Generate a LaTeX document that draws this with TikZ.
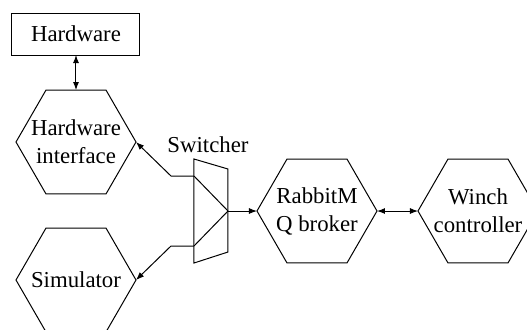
\documentclass[tikz,border=0pt]{standalone}
\usepackage{fontspec}
\setmainfont{Liberation Serif}
\usetikzlibrary{shapes.geometric,arrows.meta}
\begin{document}
\begin{tikzpicture}[x=0.5pt,y=-0.5pt,
  line width=0.5pt,
  lbl/.style={font=\fontsize{11.4}{14}\selectfont, align=center, inner sep=0pt},
  hexa/.style={regular polygon, regular polygon sides=6, minimum size=60pt, inner sep=0pt, outer sep=0pt, draw},
  boxnode/.style={draw, minimum width=64pt, minimum height=21pt, inner sep=0pt, outer sep=0pt},
  arr/.style={-{Latex[length=4pt,width=3pt]}},
  darr/.style={{Latex[length=4pt,width=3pt]}-{Latex[length=4pt,width=3pt]}},
]
\useasboundingbox (0,0) rectangle (527,329);
% Hardware box
\node[boxnode, lbl] (hw) at (76,34) {Hardware};
% Hexagons
\node[hexa] (hwif) at (76,142) {};
\node[lbl] (hwift) at (hwif.center) {Hardware\\interface};
\node[hexa] (sim) at (76,280) {};
\node[lbl] (simt) at (sim.center) {Simulator};
\node[hexa] (rmq) at (317,211) {};
\node[lbl] (rmqt) at (rmq.center) {RabbitM\\Q broker};
\node[hexa] (winch) at (478,211) {};
\node[lbl] (wincht) at (winch.center) {Winch\\controller};
% Switcher
\coordinate (swtl) at (194,159);
\coordinate (swtr) at (228,169);
\coordinate (swbr) at (228,252);
\coordinate (swbl) at (194,263);
\draw (swtl) -- (swtr) -- (swbr) -- (swbl) -- cycle;
\coordinate (swin1) at (194,176);
\coordinate (swin2) at (194,246);
\coordinate (swout) at (228,211);
\draw (swin1) -- (swout) -- (swin2);
\node[lbl] (swl) at (208,145) {Switcher};
\coordinate (k1) at (171,176);
\coordinate (k2) at (171,246);
% Connectors
\draw[darr] (hw.south) -- (hwif.north);
\draw[arr] (swin1) -- (k1) -- (hwif.east);
\draw[arr] (swin2) -- (k2) -- (sim.east);
\draw[arr] (swout) -- (rmq.west);
\draw[darr] (rmq.east) -- (winch.west);
\end{tikzpicture}
\end{document}
